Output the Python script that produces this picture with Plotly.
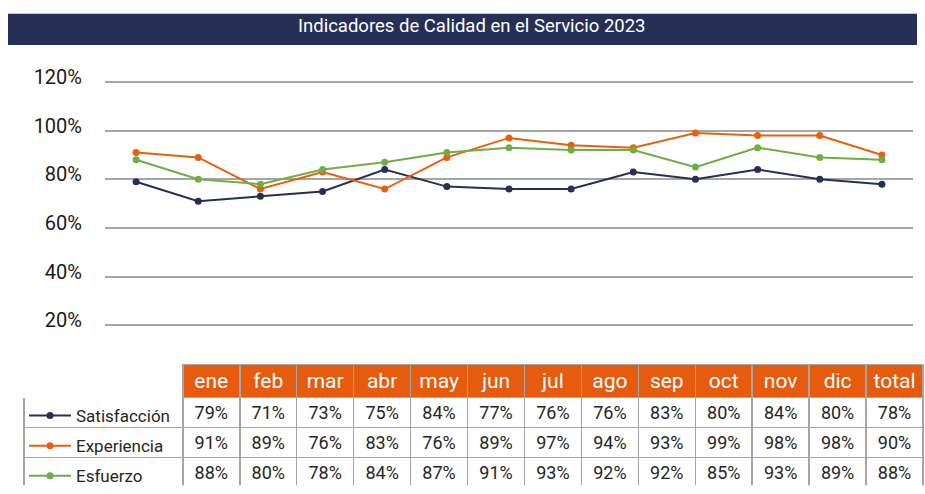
import plotly.graph_objects as go

meses = ["ene", "feb", "mar", "abr", "may", "jun", "jul", "ago", "sep", "oct", "nov", "dic", "total"]
satisfaccion = [0.79, 0.71, 0.73, 0.75, 0.84, 0.77, 0.76, 0.76, 0.83, 0.80, 0.84, 0.80, 0.78]
experiencia = [0.91, 0.89, 0.76, 0.83, 0.76, 0.89, 0.97, 0.94, 0.93, 0.99, 0.98, 0.98, 0.90]
esfuerzo = [0.88, 0.80, 0.78, 0.84, 0.87, 0.91, 0.93, 0.92, 0.92, 0.85, 0.93, 0.89, 0.88]
y_ticks = [0.2, 0.4, 0.6, 0.8, 1.0, 1.2]
titulo = "Indicadores de Calidad en el Servicio 2023"

W, H = 925, 494


def px(x):
    return x / W


def py(y):
    return 1 - y / H


NAVY = '#272f57'
ORANGE = '#e8600e'
GREEN = '#70ad47'
HEADER = '#e65b0e'
BORDER = '#a6a6a6'
FONT = 'Roboto'

series = [
    ("Satisfacción", satisfaccion, NAVY),
    ("Experiencia", experiencia, ORANGE),
    ("Esfuerzo", esfuerzo, GREEN),
]

fig = go.Figure()
for i, (name, vals, color) in enumerate(series):
    fig.add_trace(go.Scatter(
        x=meses, y=vals, name=name, mode='lines+markers',
        line=dict(color=color, width=2), marker=dict(color=color, size=7),
        legendgroup=str(i)
    ))

# data table under the chart (plotly lifts table content ~5px;
# header + 3 rows must fit the domain or the last row gets clipped)
pct = lambda v: "{:.0%}".format(v)
cell_values = [["", "", ""]] + [[pct(satisfaccion[j]), pct(experiencia[j]), pct(esfuerzo[j])]
                                 for j in range(len(meses))]
fig.add_trace(go.Table(
    domain=dict(x=[px(24), px(923)], y=[0, py(369)]),
    columnwidth=[159] + [57] * len(meses),
    header=dict(
        values=[""] + meses, height=33,
        fill_color=['white'] + [HEADER] * len(meses),
        line=dict(color=['white'] + [BORDER] * len(meses), width=1.5),
        align='center', font=dict(family=FONT, size=21, color='white'),
    ),
    cells=dict(
        values=cell_values, height=30,
        fill_color='white', line=dict(color=BORDER, width=1.5),
        align='center', font=dict(family=FONT, size=18, color='#262626'),
    ),
))

# title bar
fig.add_shape(type='rect', xref='paper', yref='paper',
              x0=px(8), x1=px(917), y0=py(41), y1=py(9),
              fillcolor=NAVY, line_width=0, layer='below')
fig.add_annotation(text=titulo, xref='paper', yref='paper', x=px(472), y=py(22),
                   xanchor='center', yanchor='middle', showarrow=False,
                   font=dict(family=FONT, size=18.5, color='white'))

fig.update_xaxes(domain=[px(105), px(913)], range=[-0.5, len(meses) - 0.5],
                 showticklabels=False, showgrid=False,
                 zeroline=False, showline=False, ticks='')
fig.update_yaxes(domain=[py(341.5), py(66.5)], range=[0.15, 1.25],
                 tickvals=y_ticks, tickformat='.0%', showgrid=True,
                 gridcolor=BORDER, gridwidth=1.5, zeroline=False, showline=False,
                 ticklabelstandoff=22, ticklabelshift=-5,
                 tickfont=dict(family=FONT, size=20, color='#1a1a1a'))

fig.update_layout(
    width=W, height=H, margin=dict(l=0, r=0, t=0, b=0),
    plot_bgcolor='white', paper_bgcolor='white',
    font=dict(family=FONT),
    legend=dict(x=px(24), y=py(404), xanchor='left', yanchor='top',
                bgcolor='rgba(0,0,0,0)', tracegroupgap=5, traceorder='grouped',
                itemwidth=42,
                font=dict(family=FONT, size=17, color='#262626'))
)

# drop the page's default body margin so the figure fills the window exactly
fig.write_html("out.html", config={'displayModeBar': False},
               post_script="document.body.style.margin='0';document.body.style.overflow='hidden';")
